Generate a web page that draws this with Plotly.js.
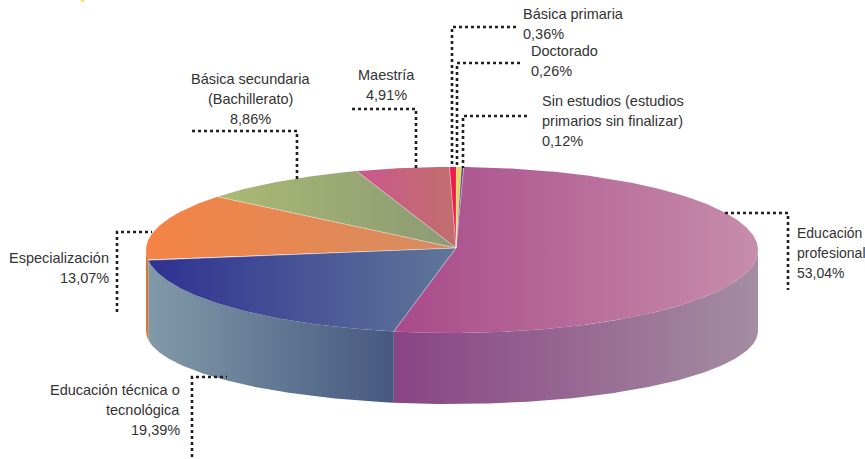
<!DOCTYPE html>
<html><head><meta charset="utf-8">
<script src="https://cdn.plot.ly/plotly-3.0.0.min.js"></script>
<style>html,body{margin:0;padding:0;background:#fff;overflow:hidden}</style>
</head><body><div id="chart" style="width:865px;height:459px"></div>
<script>
// Data
const categories = ["Educación profesional","Educación técnica o tecnológica","Especialización","Básica secundaria (Bachillerato)","Maestría","Básica primaria","Doctorado","Sin estudios (estudios primarios sin finalizar)"];
const shares = [53.04,19.39,13.07,8.86,4.91,0.36,0.26,0.12];
const shareLabels = ["53,04%","19,39%","13,07%","8,86%","4,91%","0,36%","0,26%","0,12%"];
const topColors = [["#A84A8A","#C78DAA"],["#2E3192","#607799"],["#F58345","#D58D62"],["#ABBA73","#8B9A74"],["#CA578F","#C26F6C"],["#ED1C4B","#ED1C4B"],["#E9D74F","#E9D74F"],["#5A4A86","#5A4A86"]];
const wallColors = [["#894484","#A48DA1"],["#819AA9","#46587F"],["#D07A3E","#D07A3E"],null,null,null,null,null];
const labelLines = [
 {lines:["Educación","profesional","53,04%"],x:796,y:233,a:"left",size:14},
 {lines:["Educación técnica o","tecnológica","19,39%"],x:181,y:390,a:"right"},
 {lines:["Especialización","13,07%"],x:110,y:258,a:"right"},
 {lines:["Básica secundaria","(Bachillerato)","8,86%"],x:250,y:79,a:"center"},
 {lines:["Maestría","4,91%"],x:386,y:75,a:"center"},
 {lines:["Básica primaria","0,36%"],x:522,y:14,a:"left"},
 {lines:["Doctorado","0,26%"],x:530,y:51,a:"left"},
 {lines:["Sin estudios (estudios","primarios sin finalizar)","0,12%"],x:541,y:101,a:"left"}
];
const leaders = [
 [[725,213],[788,213],[788,290]],
 [[192,457],[192,377],[227,377]],
 [[117,312],[117,232],[152,232]],
 [[192,131],[297,131],[297,180]],
 [[352,109],[416,109],[416,168]],
 [[516,27],[452,27],[452,167]],
 [[520,63],[457,63],[457,167]],
 [[527,116],[463,116],[463,168]]
];
// Geometry of the pie's perspective
const cx=452, cy=250, rx=306, ry=83, cyB=331, ryB=73, apexX=456, apexY=248, startDeg=2.2;
const rad=d=>d*Math.PI/180;
const warp=t=>t-2.4*Math.pow(Math.max(0,-Math.cos(rad(t))),4);
const topPt=t=>{const w=warp(t);return [cx+rx*Math.sin(rad(w)),cy-ry*Math.cos(rad(w))];};
const botPt=t=>{const w=warp(t);return [cx+rx*Math.sin(rad(w)),cyB-ryB*Math.cos(rad(w))];};
const total=shares.reduce((a,b)=>a+b,0);
let a=startDeg; const spans=shares.map(v=>{const s=[a,a+v/total*360];a=s[1];return s;});
const steps=(s,e)=>{const n=Math.max(2,Math.ceil((e-s)/0.5));const o=[];for(let i=0;i<=n;i++)o.push(s+(e-s)*i/n);return o;};
const grad=c=>({type:"horizontal",colorscale:[[0,c[0]],[1,c[1]]]});
const traces=[];
// walls
spans.forEach((sp,i)=>{
  const s=Math.max(sp[0],90), e=Math.min(sp[1],270);
  if(e<=s||!wallColors[i])return;
  const ts=steps(s,e);
  const pts=ts.map(topPt).concat(ts.slice().reverse().map(botPt));
  pts.push(pts[0]);
  traces.push({type:"scatter",mode:"lines",x:pts.map(p=>p[0]),y:pts.map(p=>p[1]),fill:"toself",fillgradient:grad(wallColors[i]),line:{width:0},hoverinfo:"skip"});
});
// top faces
spans.forEach((sp,i)=>{
  const pts=[[apexX,apexY]].concat(steps(sp[0],sp[1]).map(topPt));
  pts.push(pts[0]);
  traces.push({type:"scatter",mode:"lines",x:pts.map(p=>p[0]),y:pts.map(p=>p[1]),fill:"toself",fillgradient:grad(topColors[i]),line:{width:0},name:categories[i],text:shareLabels[i],hoverinfo:"name+text"});
});
// radial separators
spans.forEach(sp=>{
  const p=topPt(sp[0]);
  traces.push({type:"scatter",mode:"lines",x:[apexX,p[0]],y:[apexY,p[1]],line:{width:0.7,color:"rgba(255,255,255,0.55)"},hoverinfo:"skip"});
});
// leader lines
leaders.forEach(l=>{
  traces.push({type:"scatter",mode:"lines",x:l.map(p=>p[0]),y:l.map(p=>p[1]),line:{width:2.6,color:"#231F20",dash:"3px,3px"},hoverinfo:"skip"});
});
const annotations=[];
const lineGap=20;
labelLines.forEach(L=>L.lines.forEach((t,i)=>annotations.push({text:t,x:L.x,y:L.y+i*lineGap,xref:"x",yref:"y",xanchor:L.a,yanchor:"middle",align:L.a,showarrow:false,borderpad:0,font:{family:"Liberation Sans, Arial, sans-serif",size:L.size||14.5,color:"#333333"}})));
Plotly.newPlot("chart",traces,{
  width:865,height:459,margin:{l:0,r:0,t:0,b:0},paper_bgcolor:"#fff",plot_bgcolor:"#fff",showlegend:false,
  xaxis:{range:[0,865],visible:false,fixedrange:true},
  yaxis:{range:[459,0],visible:false,fixedrange:true},
  shapes:[{type:"rect",xref:"x",yref:"y",x0:81,x1:84,y0:0,y1:1.5,fillcolor:"#FFD92F",line:{width:0},layer:"above"}],
  annotations
},{displayModeBar:false});
</script></body></html>
